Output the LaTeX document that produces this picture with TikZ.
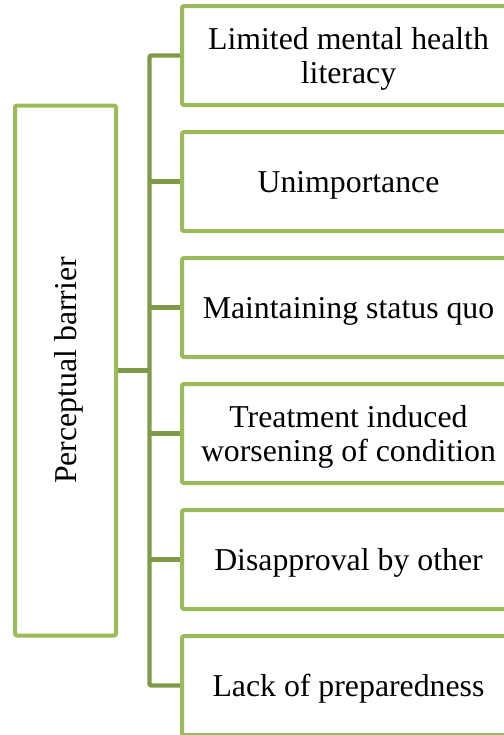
\documentclass[tikz,border=0pt]{standalone}
\usepackage{fontspec}
\setmainfont{Liberation Serif}
\definecolor{boxgreen}{HTML}{9BBB59}
\definecolor{linkgreen}{HTML}{7F9A48}
\begin{document}
\begin{tikzpicture}[x=0.5pt,y=-0.5pt,
    barrier/.style={draw=boxgreen,line width=2pt,rounded corners=1pt,
      minimum width=166.5pt,minimum height=49.5pt,inner sep=2pt,align=center,
      text depth=0pt,font=\fontsize{15.9}{17}\selectfont},
    link/.style={draw=linkgreen,line width=2.2pt,rounded corners=1pt}]
    \clip (0,0) rectangle (504,735);
    \node[barrier,rotate=90,minimum width=265pt,minimum height=50.5pt] (P) at (65.5,370.5) {Perceptual barrier};

    \node[barrier] (A1) at (348.5,55.5)  {Limited mental health\\literacy};
    \node[barrier] (A2) at (348.5,181.5) {Unimportance};
    \node[barrier] (A3) at (348.5,307.5) {Maintaining status quo};
    \node[barrier] (A4) at (348.5,433.5) {Treatment induced\\worsening of condition};
    \node[barrier] (A5) at (348.5,559.5) {Disapproval by other};
    \node[barrier] (A6) at (348.5,685.5) {Lack of preparedness};

    \coordinate (T) at (149.5,0);
    \draw[link] (A1.west) -- (A1.west -| T) -- (A6.west -| T) -- (A6.west);
    \foreach \n in {2,...,5}
        \draw[link] (A\n.west) -- (A\n.west -| T);
    \draw[link] (P.south) -- (P.south -| T);
\end{tikzpicture}
\end{document}
